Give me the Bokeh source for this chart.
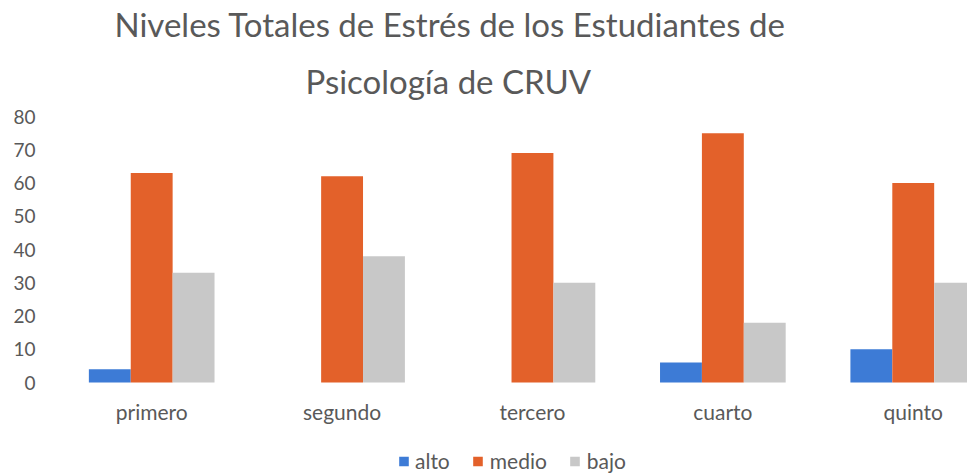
import numpy as np
from bokeh.plotting import figure
from bokeh.models import Range1d, Title, Legend, LegendItem, FixedTicker
from bokeh.embed import file_html
from bokeh.resources import INLINE

categories = ["primero", "segundo", "tercero", "cuarto", "quinto"]
alto = [4, 0, 0, 6, 10]
medio = [63, 62, 69, 75, 60]
bajo = [33, 38, 30, 18, 30]
y_ticks = [0, 10, 20, 30, 40, 50, 60, 70, 80]

FONT = "Lato"
TXT = "#595959"

# frame spans from the top of the value area down to the bottom of the page so that
# the legend can sit inside it under the category labels
PX_PER_UNIT = 266 / 80
FRAME_H = 357
Y_MIN = 80 - FRAME_H / PX_PER_UNIT

p = figure(frame_width=911, frame_height=FRAME_H, output_backend="svg", toolbar_location=None,
           x_range=Range1d(-0.5, 4.285), y_range=Range1d(Y_MIN, 80),
           min_border_left=56, min_border_right=0, min_border_top=116, min_border_bottom=0)
p.outline_line_color = None
p.xgrid.visible = False
p.ygrid.visible = False

x = np.arange(len(categories))
bw = 0.22
r1 = p.vbar(x=x - bw, top=alto, width=bw, fill_color="#3D7BD6", line_color=None)
r2 = p.vbar(x=x, top=medio, width=bw, fill_color="#E3612A", line_color=None)
r3 = p.vbar(x=x + bw, top=bajo, width=bw, fill_color="#C8C8C8", line_color=None)

p.xaxis.ticker = FixedTicker(ticks=list(x))
p.xaxis.major_label_overrides = {int(i): c for i, c in zip(x, categories)}
p.xaxis.fixed_location = 0
p.yaxis.ticker = FixedTicker(ticks=y_ticks)
for ax in (p.xaxis[0], p.yaxis[0]):
    ax.axis_line_color = None
    ax.major_tick_line_color = None
    ax.minor_tick_line_color = None
    ax.major_tick_out = 0
    ax.major_tick_in = 0
    ax.major_label_text_font = FONT
    ax.major_label_text_color = TXT
p.yaxis.major_label_text_font_size = "19px"
p.xaxis.major_label_text_font_size = "21px"
p.yaxis.major_label_standoff = 21
p.xaxis.major_label_standoff = 16

legend = Legend(items=[LegendItem(label="alto", renderers=[r1]),
                       LegendItem(label="medio", renderers=[r2]),
                       LegendItem(label="bajo", renderers=[r3])],
                orientation="horizontal", location="bottom_center",
                glyph_width=12, glyph_height=12, label_standoff=6, spacing=22,
                label_text_font=FONT, label_text_color=TXT, label_text_font_size="21px",
                border_line_color=None, background_fill_alpha=0, padding=0, margin=0)
p.add_layout(legend)

t2 = Title(text="Psicología de CRUV", align="left", offset=249, text_font=FONT,
           text_font_size="33px", text_font_style="normal", text_color=TXT, standoff=31)
t1 = Title(text="Niveles Totales de Estrés de los Estudiantes de", align="left", offset=58,
           text_font=FONT, text_font_size="33px", text_font_style="normal", text_color=TXT,
           standoff=0)
p.add_layout(t2, "above")
p.add_layout(t1, "above")

open("out.html", "w").write(file_html(p, INLINE))
